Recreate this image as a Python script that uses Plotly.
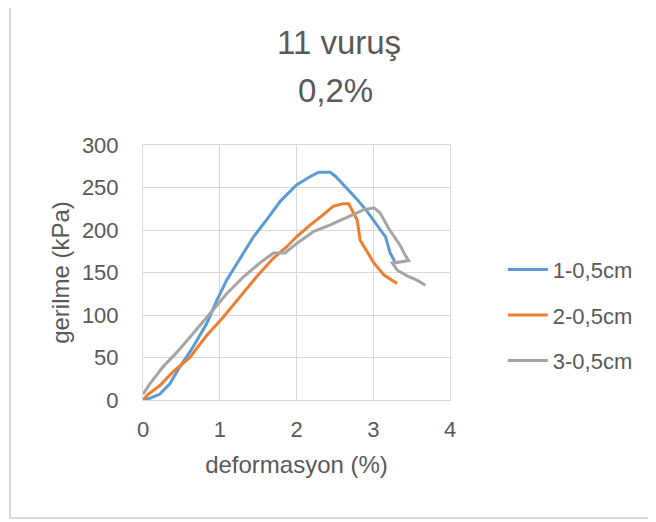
import plotly.graph_objects as go

# ---- data ----
x1 = [0, 0.09, 0.22, 0.35, 0.48, 0.65, 0.83, 0.96, 1.09, 1.26, 1.44, 1.61, 1.79, 2.0, 2.18, 2.29, 2.44, 2.51, 2.66, 2.79, 2.92, 3.05, 3.16, 3.22, 3.28]
y1 = [0, 2, 7, 19, 39, 62, 90, 117, 141, 165, 192, 212, 234, 253, 263, 268, 268, 263, 249, 236, 222, 206, 192, 173, 163]

x2 = [0, 0.07, 0.22, 0.39, 0.61, 0.83, 1.05, 1.26, 1.48, 1.70, 1.87, 2.0, 2.18, 2.35, 2.48, 2.61, 2.68, 2.72, 2.79, 2.83, 2.92, 3.01, 3.14, 3.31]
y2 = [0, 7, 17, 33, 50, 76, 98, 121, 145, 167, 180, 192, 206, 218, 228, 231, 231, 224, 212, 188, 175, 161, 147, 137]

x3 = [0, 0.09, 0.26, 0.44, 0.65, 0.87, 1.09, 1.31, 1.52, 1.70, 1.85, 2.0, 2.22, 2.44, 2.66, 2.88, 3.01, 3.09, 3.20, 3.27, 3.35, 3.40, 3.46, 3.25, 3.31, 3.44, 3.57, 3.68]
y3 = [7, 19, 39, 56, 78, 102, 125, 145, 161, 173, 173, 184, 198, 206, 215, 224, 226, 220, 202, 192, 182, 173, 164, 161, 153, 146, 141, 135]

names = ["1-0,5cm", "2-0,5cm", "3-0,5cm"]
colors = ["#5B9BD5", "#ED7D31", "#A5A5A5"]
title_lines = ["11 vuruş", "0,2%"]
x_title = "deformasyon (%)"
y_title = "gerilme (kPa)"

FONT = "Liberation Sans"
TXT = "#595959"

fig = go.Figure()
for i, (xs, ys) in enumerate([(x1, y1), (x2, y2), (x3, y3)]):
    fig.add_trace(go.Scatter(x=xs, y=ys, mode="lines", name=names[i],
                             line=dict(color=colors[i], width=3),
                             legendgroup=names[i]))

axis_common = dict(showgrid=True, gridcolor="#D9D9D9", gridwidth=1,
                   showline=True, linecolor="#D9D9D9", linewidth=1, mirror=True,
                   zeroline=False, ticks="",
                   tickfont=dict(family=FONT, size=22, color=TXT))

# page has an 8px body margin; figure is sized/margined to compensate
L, T, PW, PH = 135, 137, 307, 255
W, H = 648, 514

fig.update_layout(
    width=W, height=H,
    margin=dict(l=L, r=W - L - PW, t=T, b=H - T - PH),
    paper_bgcolor="white", plot_bgcolor="white",
    font=dict(family=FONT, color=TXT),
    xaxis=dict(range=[0, 4], dtick=1, ticklabelstandoff=10,
               title=dict(text=x_title, font=dict(family=FONT, size=24, color=TXT), standoff=14),
               **axis_common),
    yaxis=dict(range=[0, 300], dtick=50, ticklabelstandoff=19,
               title=dict(text=y_title, font=dict(family=FONT, size=24, color=TXT), standoff=5),
               **axis_common),
    legend=dict(x=1.172, y=0.333, xanchor="left", yanchor="middle",
                font=dict(family=FONT, size=22, color=TXT),
                tracegroupgap=14, itemwidth=40, bgcolor="rgba(0,0,0,0)"),
    showlegend=True,
)

fig.add_annotation(text=title_lines[0], xref="paper", yref="paper", x=0.639, y=1.403,
                   showarrow=False, font=dict(family=FONT, size=33, color=TXT),
                   xanchor="center", yanchor="middle")
fig.add_annotation(text=title_lines[1], xref="paper", yref="paper", x=0.626, y=1.212,
                   showarrow=False, font=dict(family=FONT, size=33, color=TXT),
                   xanchor="center", yanchor="middle")

# outer chart border
fig.add_shape(type="rect", xref="paper", yref="paper",
              x0=(2 - L) / PW, x1=(W + 20 - L) / PW,
              y0=(T + PH - 510) / PH, y1=(T + PH + 6) / PH,
              line=dict(color="#D9D9D9", width=2), fillcolor="rgba(0,0,0,0)", layer="below")

fig.write_html("out.html")
